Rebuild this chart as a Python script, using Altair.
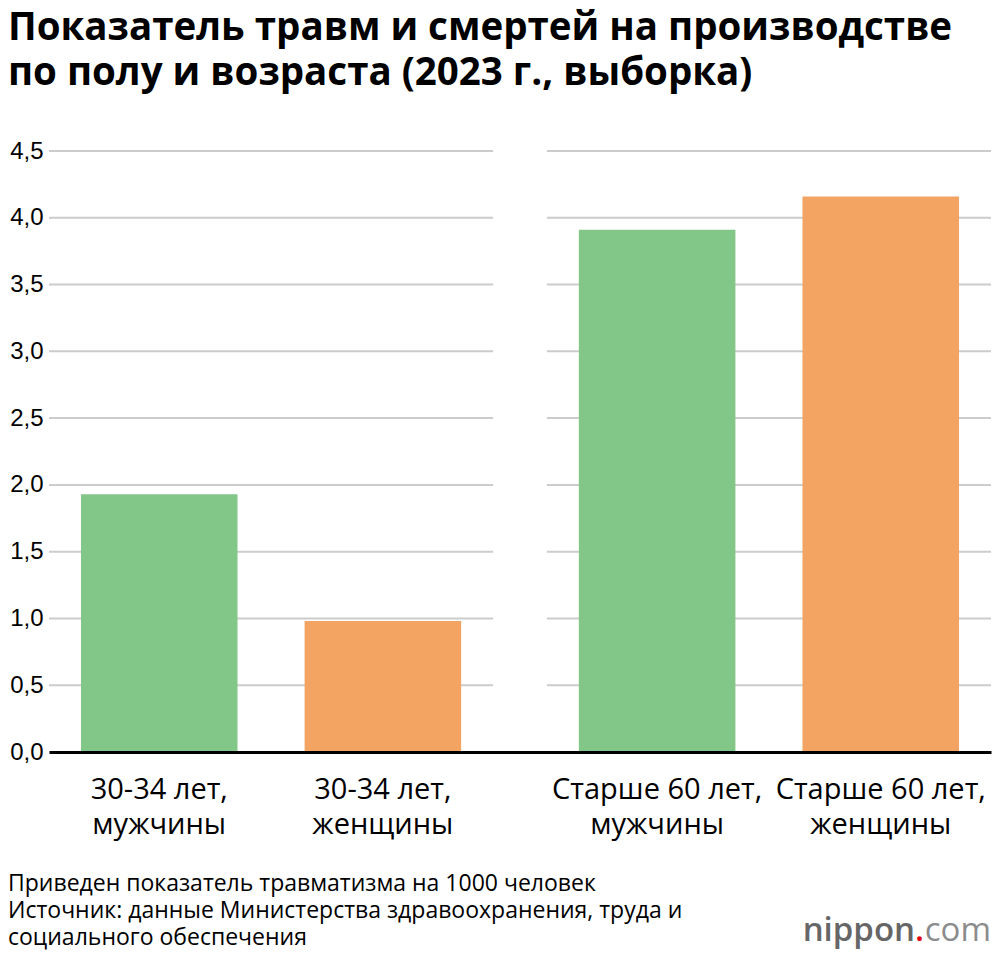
import altair as alt
import pandas as pd

# ---- data ----
groups = ["30-34 лет", "30-34 лет", "Старше 60 лет", "Старше 60 лет"]
sexes = ["мужчины", "женщины", "мужчины", "женщины"]
values = [1.93, 0.98, 3.91, 4.16]
group_order = ["30-34 лет", "Старше 60 лет"]
sex_order = ["мужчины", "женщины"]
colors = ["#82c688", "#f3a462"]
grid_ticks = [0.5, 1.0, 1.5, 2.0, 2.5, 3.0, 3.5, 4.0, 4.5]
y_ticks = [0.0, 0.5, 1.0, 1.5, 2.0, 2.5, 3.0, 3.5, 4.0, 4.5]

title_lines = ["Показатель травм и смертей на производстве",
               "по полу и возраста (2023 г., выборка)"]
footnote = "Приведен показатель травматизма на 1000 человек\nИсточник: данные Министерства здравоохранения, труда и\nсоциального обеспечения"

df = pd.DataFrame({"group": groups, "sex": sexes, "value": values})
df["label"] = [g + ",\n" + s for g, s in zip(groups, sexes)]

grid_df = pd.DataFrame([{"group": g, "tick": t} for g in group_order for t in grid_ticks])

x_enc = alt.X("group:N", sort=group_order,
              scale=alt.Scale(domain=group_order, paddingInner=0.108, paddingOuter=0),
              axis=alt.Axis(labels=False, ticks=False, title=None, domain=True,
                            domainColor="#000000", domainWidth=3))
xoff_enc = alt.XOffset("sex:N", sort=sex_order,
                       scale=alt.Scale(domain=sex_order, paddingInner=0.3, paddingOuter=0.143))
y_scale = alt.Scale(domain=[0, 4.5], nice=False)

grid = alt.Chart(grid_df).mark_rect(fill=None, stroke="#cccccc", strokeWidth=2).encode(
    x=x_enc,
    y=alt.Y("tick:Q", scale=y_scale,
            axis=alt.Axis(values=y_ticks, grid=False, domain=False, ticks=False,
                          labelExpr="replace(format(datum.value, '.1f'), '.', ',')",
                          labelFont="Liberation Sans", labelFontSize=24, labelColor="#000000",
                          labelPadding=6, title=None)),
    y2="tick:Q",
)

bars = alt.Chart(df).mark_bar().encode(
    x=x_enc,
    xOffset=xoff_enc,
    y=alt.Y("value:Q", scale=y_scale),
    color=alt.Color("sex:N", scale=alt.Scale(domain=sex_order, range=colors), legend=None),
)

labels = alt.Chart(df).mark_text(baseline="top", align="center", dy=24, lineBreak="\n",
                                 lineHeight=35, fontSize=29, font="Open Sans", color="#000000").encode(
    x=x_enc,
    xOffset=xoff_enc,
    y=alt.datum(0),
    text="label:N",
)

foot = alt.Chart(pd.DataFrame({"t": [footnote]})).mark_text(
    align="left", baseline="alphabetic", lineBreak="\n", lineHeight=27, dx=-41, dy=139,
    fontSize=23, font="Open Sans", color="#000000").encode(
    x=alt.value(0), y=alt.datum(0), text="t:N")

logo1 = alt.Chart(pd.DataFrame({"t": ["nippon"]})).mark_text(
    align="right", baseline="alphabetic", fontSize=33, font="Open Sans", fontWeight=600,
    dx=-76, dy=189, color="#666666").encode(x=alt.value("width"), y=alt.datum(0), text="t:N")
logo2 = alt.Chart(pd.DataFrame({"t": ["."]})).mark_text(
    align="right", baseline="alphabetic", fontSize=33, font="Open Sans", fontWeight=600,
    dx=-67, dy=189, color="#e60012").encode(x=alt.value("width"), y=alt.datum(0), text="t:N")
logo3 = alt.Chart(pd.DataFrame({"t": ["com"]})).mark_text(
    align="right", baseline="alphabetic", fontSize=33, font="Open Sans", fontWeight=400,
    dx=0, dy=189, color="#8c8c8c").encode(x=alt.value("width"), y=alt.datum(0), text="t:N")

chart = alt.layer(grid, bars, labels, foot, logo1, logo2, logo3).properties(
    width=984, height=942,
    autosize=alt.AutoSizeParams(type="fit", contains="padding"),
    padding={"left": 0, "top": 0, "right": 0, "bottom": 0},
    title=alt.TitleParams(text=title_lines, anchor="start", frame="bounds",
                          font="Open Sans", fontSize=38.5, fontWeight="bold",
                          lineHeight=45, color="#000000", offset=46),
).configure_view(stroke=None)

chart.save("out.html", embed_options={"renderer": "svg", "actions": False})
